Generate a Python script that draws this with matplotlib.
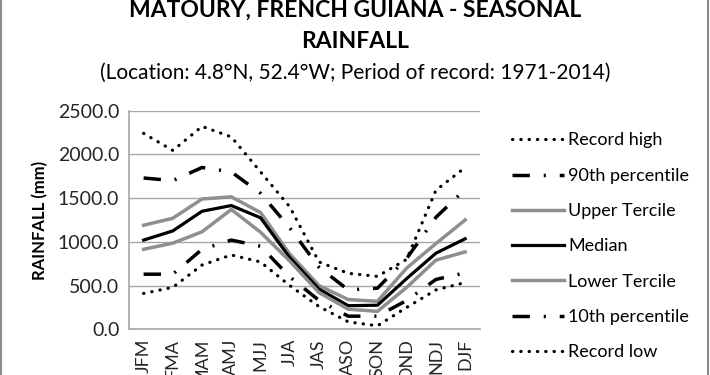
import matplotlib
matplotlib.use("Agg")
import matplotlib.pyplot as plt
from matplotlib.patches import Rectangle

plt.rcParams['font.family'] = ['Lato', 'DejaVu Sans']

# seasons (3-month windows)
seasons = ['JFM', 'FMA', 'MAM', 'AMJ', 'MJJ', 'JJA', 'JAS', 'ASO', 'SON', 'OND', 'NDJ', 'DJF']

# rainfall in mm
record_high = [2240, 2045, 2320, 2200, 1800, 1400, 770, 640, 605, 800, 1590, 1850]
pct90 = [1730, 1700, 1850, 1800, 1555, 1160, 710, 450, 470, 810, 1280, 1600]
upper_tercile = [1190, 1270, 1490, 1515, 1335, 860, 500, 340, 320, 700, 980, 1250]
median = [1020, 1125, 1350, 1415, 1275, 820, 460, 270, 275, 580, 870, 1035]
lower_tercile = [915, 985, 1115, 1370, 1110, 780, 420, 230, 205, 480, 790, 885]
pct10 = [630, 630, 915, 1020, 950, 600, 330, 150, 150, 330, 570, 645]
record_low = [410, 480, 735, 850, 770, 500, 260, 85, 40, 250, 450, 535]

fig = plt.figure(figsize=(7.1, 3.75), dpi=100)
ax = fig.add_axes([0.1817, 0.1219, 0.494, 0.583])

x = range(len(seasons))
dot = dict(color='black', lw=2.3, linestyle=(0, (0.1, 2.5)), dash_capstyle='round')
dashdot = dict(color='black', lw=2.5, linestyle=(0, (5, 4, 0.6, 4)), dash_capstyle='butt')
gray = '#8f8f8f'

ax.plot(x, record_high, label='Record high', **dot)
ax.plot(x, pct90, label='90th percentile', **dashdot)
ax.plot(x, upper_tercile, label='Upper Tercile', color=gray, lw=2.5)
ax.plot(x, median, label='Median', color='black', lw=2.3)
ax.plot(x, lower_tercile, label='Lower Tercile', color=gray, lw=2.5)
ax.plot(x, pct10, label='10th percentile', **dashdot)
ax.plot(x, record_low, label='Record low', **dot)

ax.set_xlim(-0.5, len(seasons) - 0.5)
ax.set_ylim(0, 2500)
ax.set_yticks(range(0, 2501, 500))
ax.set_yticklabels(['%.1f' % v for v in range(0, 2501, 500)], fontsize=14, color='#262626')
ax.set_xticks(list(x))
ax.set_xticklabels(seasons, rotation=90, fontsize=13, color='#262626')
ax.tick_params(length=0, pad=7)
ax.grid(axis='y', color='#a6a6a6', lw=1)
ax.set_axisbelow(True)
for s in ['top', 'right']:
    ax.spines[s].set_visible(False)
for s in ['left', 'bottom']:
    ax.spines[s].set_color('#a6a6a6')
    ax.spines[s].set_linewidth(1.2)
ax.set_ylabel('RAINFALL (mm)', fontsize=12, fontweight='bold', labelpad=7)

fig.text(0.5, 0.972, 'MATOURY, FRENCH GUIANA - SEASONAL', ha='center', va='center',
         fontsize=16.5, fontweight='bold')
fig.text(0.5, 0.888, 'RAINFALL', ha='center', va='center', fontsize=16.5, fontweight='bold')
fig.text(0.5, 0.805, '(Location: 4.8°N, 52.4°W; Period of record: 1971-2014)',
         ha='center', va='center', fontsize=15)

fig.legend(loc='upper left', bbox_to_anchor=(0.698, 0.69), frameon=False,
           fontsize=13, handlelength=2.9, handletextpad=0.22, labelspacing=1.07)

fig.patches.append(Rectangle((0.002, -0.01), 0.995, 1.02, transform=fig.transFigure,
                             fill=False, edgecolor='#8c8c8c', lw=1.5))

fig.savefig('out.png', dpi=100)
